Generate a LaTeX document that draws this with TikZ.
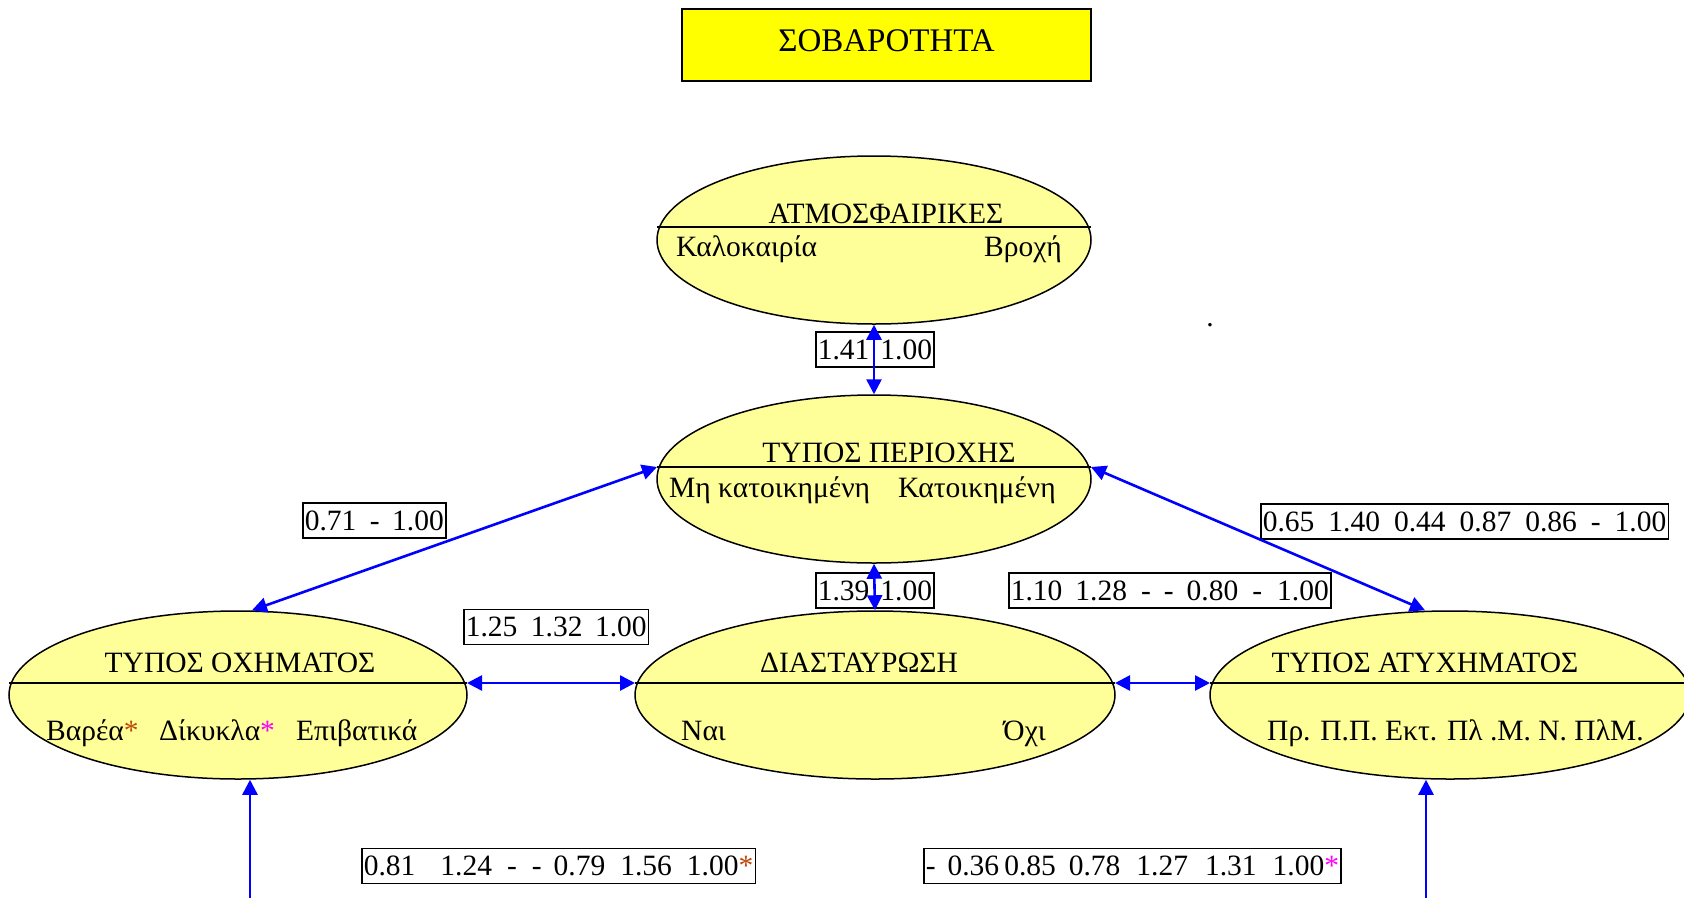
\documentclass[tikz,border=0pt]{standalone}
\usepackage{fontspec}
\setmainfont{Liberation Serif}
\usetikzlibrary{shapes.geometric,arrows.meta,calc}
\definecolor{titlefill}{RGB}{255,255,0}
\definecolor{ovalfill}{RGB}{255,255,153}
\definecolor{linkblue}{RGB}{0,0,255}
\definecolor{starrust}{RGB}{190,70,10}
\definecolor{starpink}{RGB}{255,0,255}
\newcommand{\gap}[1]{\hspace{#1pt}}
\newcommand{\rstar}{\textcolor{starrust}{*}}
\newcommand{\pstar}{\textcolor{starpink}{*}}
\begin{document}
\begin{tikzpicture}[x=1pt,y=-1pt,
  txt/.style={font=\fontsize{29.5}{34}\selectfont, inner sep=0pt},
  titlebox/.style={draw=black, line width=2pt, fill=titlefill, minimum width=409pt, minimum height=72pt, inner sep=0pt},
  oval/.style={ellipse, draw=black, line width=1.5pt, fill=ovalfill, inner sep=0pt, minimum height=168pt},
  divider/.style={draw=black, line width=1.5pt},
  numbox/.style={draw=black, line width=1.6pt, font=\fontsize{29.5}{34}\selectfont, minimum height=35pt, inner xsep=2pt, inner ysep=0pt, anchor=west},
  link/.style={draw=linkblue, line width=2.6pt, {Triangle[length=15pt,width=15pt]}-{Triangle[length=15pt,width=15pt]}},
  uplink/.style={draw=linkblue, line width=2.6pt, -{Triangle[length=15pt,width=15pt]}}]

\useasboundingbox (0,0) rectangle (1684,898);

% title
\node[titlebox] (title) at (886.5,45) {};
\node[txt, font=\fontsize{33}{38}\selectfont, anchor=base] (title-text) at (886.5,51) {ΣΟΒΑΡΟΤΗΤΑ};

% ovals
\node[oval, minimum width=434pt] (atm) at (874,240) {};
\node[oval, minimum width=434pt] (per) at (874,479) {};
\node[oval, minimum width=458pt] (oxi) at (238,695) {};
\node[oval, minimum width=480pt] (dia) at (875,695) {};
\node[oval, minimum width=480pt] (aty) at (1450,695) {};

% dividers
\coordinate (atm-w) at ($(atm.center)+(-217,-13)$);
\coordinate (atm-e) at ($(atm.center)+(217,-13)$);
\coordinate (per-w) at ($(per.center)+(-217,-12)$);
\coordinate (per-e) at ($(per.center)+(217,-12)$);
\coordinate (oxi-w) at ($(oxi.center)+(-229,-12)$);
\coordinate (oxi-e) at ($(oxi.center)+(229,-12)$);
\coordinate (dia-w) at ($(dia.center)+(-240,-12)$);
\coordinate (dia-e) at ($(dia.center)+(240,-12)$);
\coordinate (aty-w) at ($(aty.center)+(-240,-12)$);
\coordinate (aty-e) at ($(aty.center)+(240,-12)$);
\draw[divider] (atm-w) -- (atm-e);
\draw[divider] (per-w) -- (per-e);
\draw[divider] (oxi-w) -- (oxi-e);
\draw[divider] (dia-w) -- (dia-e);
\draw[divider] (aty-w) -- (aty-e);

% oval texts
\node[txt, anchor=base] (atm-head) at (886,223) {ΑΤΜΟΣΦΑΙΡΙΚΕΣ};
\node[txt, anchor=base west] (atm-a) at (676,256) {Καλοκαιρία};
\node[txt, anchor=base east] (atm-b) at (1062,256) {Βροχή};

\node[txt, anchor=base] (per-head) at (889,462) {ΤΥΠΟΣ ΠΕΡΙΟΧΗΣ};
\node[txt, anchor=base west] (per-a) at (669,497) {Μη κατοικημένη};
\node[txt, anchor=base west] (per-b) at (898,497) {Κατοικημένη};

\node[txt, anchor=base] (oxi-head) at (240,672) {ΤΥΠΟΣ ΟΧΗΜΑΤΟΣ};
\node[txt, anchor=base west] (oxi-a) at (46,740) {Βαρέα\rstar};
\node[txt, anchor=base west] (oxi-b) at (159,740) {Δίκυκλα\pstar};
\node[txt, anchor=base west] (oxi-c) at (296,740) {Επιβατικά};

\node[txt, anchor=base] (dia-head) at (859,672) {ΔΙΑΣΤΑΥΡΩΣΗ};
\node[txt, anchor=base west] (dia-a) at (681,740) {Ναι};
\node[txt, anchor=base east] (dia-b) at (1046,740) {Όχι};

\node[txt, anchor=base] (aty-head) at (1425,672) {ΤΥΠΟΣ ΑΤΥΧΗΜΑΤΟΣ};
\node[txt, anchor=base west] (aty-a) at (1267,740) {Πρ. Π.Π. Εκτ. Πλ .Μ. Ν. ΠλΜ.};

\node[txt, anchor=base] (dot) at (1210,326) {.};

% value boxes
\node[numbox] (v-atm) at (815,349.5) {1.41\gap{11}1.00};
\node[numbox] (v-per) at (815,590.5) {1.39\gap{11}1.00};
\node[numbox] (v-oxi) at (302,520.5) {0.71\gap{13.5}-\gap{12.5}1.00};
\node[numbox] (v-dia) at (463,627) {1.25\gap{13.5}1.32\gap{12.5}1.00};
\node[numbox] (v-cross) at (1008,590.5) {1.10\gap{13}1.28\gap{14}-\gap{13}-\gap{13}0.80\gap{14}-\gap{15}1.00};
\node[numbox] (v-aty) at (1260,521.5) {0.65\gap{14}1.40\gap{14}0.44\gap{14}0.87\gap{14}0.86\gap{14}-\gap{14}1.00};
\node[numbox] (v-low1) at (361,866) {0.81\gap{25}1.24\gap{15}-\gap{15}-\gap{12}0.79\gap{15}1.56\gap{15}1.00\rstar};
\node[numbox] (v-low2) at (923,866) {-\gap{12}0.36\gap{5}0.85\gap{13}0.78\gap{16}1.27\gap{17}1.31\gap{16}1.00\pstar};

% connectors
\coordinate (oxi-top) at ($(oxi.north)+(14,0)$);
\coordinate (aty-top) at ($(aty.north)+(-25,0)$);
\coordinate (oxi-foot) at (250,898);
\coordinate (aty-foot) at (1426,898);

\draw[link] (atm.south) -- (per.north);
\draw[link] (per.south) -- (dia.north);
\draw[link] (per-w) -- (oxi-top);
\draw[link] (per-e) -- (aty-top);
\draw[link] (oxi-e) -- (dia-w);
\draw[link] (dia-e) -- (aty-w);
\draw[uplink] (oxi-foot) -- (oxi-foot |- oxi.south);
\draw[uplink] (aty-foot) -- (aty-foot |- aty.south);
\end{tikzpicture}
\end{document}
